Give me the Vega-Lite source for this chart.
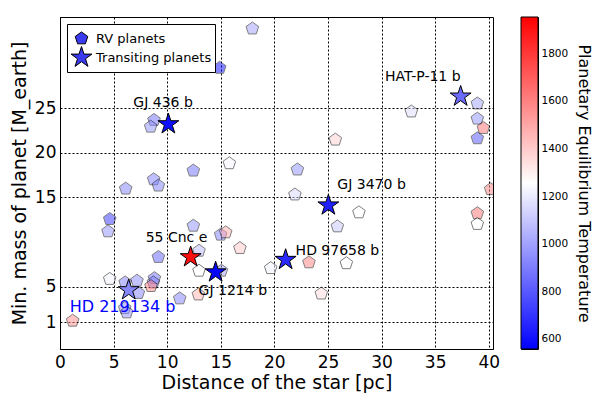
{
  "$schema": "https://vega.github.io/schema/vega-lite/v6.json",
  "padding": {"left": 9, "top": 16, "right": 0, "bottom": 0},
  "background": "white",
  "bounds": "flush",
  "spacing": 28,
  "config": {
    "font": "DejaVu Sans",
    "view": {"stroke": "black", "strokeWidth": 1},
    "axis": {"labelFont": "DejaVu Sans", "titleFont": "DejaVu Sans", "labelColor": "black", "titleColor": "black", "domainColor": "black", "tickColor": "black", "titleFontWeight": "normal"},
    "legend": {"labelFont": "DejaVu Sans", "labelColor": "black", "symbolBaseFillColor": "#3a3af0", "symbolBaseStrokeColor": "black", "symbolFillColor": "#3a3af0", "symbolStrokeColor": "black", "symbolOpacity": 1}
  },
  "datasets": {
    "planets": [
      {"name": "", "type": "RV planets", "distance": 17.95, "mass": 33.9, "temperature": 997},
      {"name": "", "type": "RV planets", "distance": 14.9, "mass": 29.5, "temperature": 585},
      {"name": "", "type": "RV planets", "distance": 8.77, "mass": 23.65, "temperature": 865},
      {"name": "", "type": "RV planets", "distance": 8.46, "mass": 22.9, "temperature": 955},
      {"name": "", "type": "RV planets", "distance": 12.44, "mass": 17.98, "temperature": 865},
      {"name": "", "type": "RV planets", "distance": 15.8, "mass": 18.8, "temperature": 1230},
      {"name": "", "type": "RV planets", "distance": 6.13, "mass": 15.96, "temperature": 907},
      {"name": "", "type": "RV planets", "distance": 8.74, "mass": 17.0, "temperature": 907},
      {"name": "", "type": "RV planets", "distance": 9.18, "mass": 16.3, "temperature": 907},
      {"name": "", "type": "RV planets", "distance": 22.15, "mass": 18.1, "temperature": 955},
      {"name": "", "type": "RV planets", "distance": 21.92, "mass": 15.3, "temperature": 1150},
      {"name": "", "type": "RV planets", "distance": 32.78, "mass": 24.6, "temperature": 1160},
      {"name": "", "type": "RV planets", "distance": 38.94, "mass": 25.5, "temperature": 1000},
      {"name": "", "type": "RV planets", "distance": 38.94, "mass": 23.8, "temperature": 955},
      {"name": "", "type": "RV planets", "distance": 39.5, "mass": 22.75, "temperature": 1645},
      {"name": "", "type": "RV planets", "distance": 38.94, "mass": 21.6, "temperature": 780},
      {"name": "", "type": "RV planets", "distance": 25.69, "mass": 21.45, "temperature": 1380},
      {"name": "", "type": "RV planets", "distance": 40.18, "mass": 15.9, "temperature": 1600},
      {"name": "", "type": "RV planets", "distance": 27.89, "mass": 13.3, "temperature": 1255},
      {"name": "", "type": "RV planets", "distance": 25.88, "mass": 11.73, "temperature": 1100},
      {"name": "", "type": "RV planets", "distance": 38.94, "mass": 13.2, "temperature": 1645},
      {"name": "", "type": "RV planets", "distance": 38.94, "mass": 12.0, "temperature": 1255},
      {"name": "", "type": "RV planets", "distance": 23.23, "mass": 7.7, "temperature": 1600},
      {"name": "", "type": "RV planets", "distance": 26.72, "mass": 7.6, "temperature": 1255},
      {"name": "", "type": "RV planets", "distance": 24.38, "mass": 4.2, "temperature": 1350},
      {"name": "", "type": "RV planets", "distance": 4.64, "mass": 12.55, "temperature": 697},
      {"name": "", "type": "RV planets", "distance": 4.48, "mass": 11.17, "temperature": 955},
      {"name": "", "type": "RV planets", "distance": 12.44, "mass": 11.8, "temperature": 955},
      {"name": "", "type": "RV planets", "distance": 14.99, "mass": 10.8, "temperature": 907},
      {"name": "", "type": "RV planets", "distance": 15.46, "mass": 11.06, "temperature": 1490},
      {"name": "", "type": "RV planets", "distance": 16.79, "mass": 9.3, "temperature": 1410},
      {"name": "", "type": "RV planets", "distance": 9.18, "mass": 8.3, "temperature": 823},
      {"name": "", "type": "RV planets", "distance": 12.97, "mass": 9.0, "temperature": 1060},
      {"name": "", "type": "RV planets", "distance": 12.97, "mass": 6.76, "temperature": 1255},
      {"name": "", "type": "RV planets", "distance": 15.06, "mass": 6.76, "temperature": 1000},
      {"name": "", "type": "RV planets", "distance": 19.66, "mass": 7.05, "temperature": 1220},
      {"name": "", "type": "RV planets", "distance": 4.64, "mass": 5.84, "temperature": 1220},
      {"name": "", "type": "RV planets", "distance": 6.08, "mass": 5.45, "temperature": 907},
      {"name": "", "type": "RV planets", "distance": 7.18, "mass": 5.64, "temperature": 930},
      {"name": "", "type": "RV planets", "distance": 8.81, "mass": 5.93, "temperature": 865},
      {"name": "", "type": "RV planets", "distance": 8.71, "mass": 5.45, "temperature": 907},
      {"name": "", "type": "RV planets", "distance": 8.49, "mass": 5.04, "temperature": 1600},
      {"name": "", "type": "RV planets", "distance": 7.31, "mass": 4.27, "temperature": 907},
      {"name": "", "type": "RV planets", "distance": 11.17, "mass": 3.66, "temperature": 907},
      {"name": "", "type": "RV planets", "distance": 12.91, "mass": 4.1, "temperature": 1465},
      {"name": "", "type": "RV planets", "distance": 6.04, "mass": 2.57, "temperature": 955},
      {"name": "", "type": "RV planets", "distance": 6.22, "mass": 2.09, "temperature": 955},
      {"name": "", "type": "RV planets", "distance": 1.18, "mass": 1.16, "temperature": 1575},
      {"name": "GJ 436 b", "type": "Transiting planets", "distance": 10.11, "mass": 23.2, "temperature": 600},
      {"name": "HAT-P-11 b", "type": "Transiting planets", "distance": 37.38, "mass": 26.3, "temperature": 850},
      {"name": "GJ 3470 b", "type": "Transiting planets", "distance": 25.04, "mass": 14.1, "temperature": 645},
      {"name": "HD 97658 b", "type": "Transiting planets", "distance": 21.05, "mass": 8.0, "temperature": 670},
      {"name": "GJ 1214 b", "type": "Transiting planets", "distance": 14.52, "mass": 6.6, "temperature": 575},
      {"name": "55 Cnc e", "type": "Transiting planets", "distance": 12.19, "mass": 8.3, "temperature": 1910},
      {"name": "HD 219134 b", "type": "Transiting planets", "distance": 6.41, "mass": 4.6, "temperature": 930}
    ],
    "cbar": [{"low": 558, "high": 1952}]
  },
  "hconcat": [
    {
      "width": 433,
      "height": 332,
      "data": {"name": "planets"},
      "encoding": {
        "x": {"field": "distance", "type": "quantitative", "title": "Distance of the star [pc]",
          "scale": {"domain": [0, 40.4], "nice": false, "zero": false},
          "axis": {"values": [0, 5, 10, 15, 20, 25, 30, 35, 40], "grid": true, "gridColor": "black", "gridDash": [2, 2], "gridOpacity": 1, "ticks": false, "labelFontSize": 17, "labelPadding": 5, "titleFontSize": 19, "titlePadding": 3, "labelFlush": false}},
        "y": {"field": "mass", "type": "quantitative", "title": "Min. mass of planet [M_earth]",
          "scale": {"domain": [-2, 35.2], "nice": false, "zero": false},
          "axis": {"values": [1, 5, 15, 20, 25], "grid": true, "gridColor": "black", "gridDash": [2, 2], "gridOpacity": 1, "ticks": false, "labelFontSize": 17, "labelPadding": 4, "titleFontSize": 19, "titlePadding": 5}}
      },
      "layer": [
        {
          "transform": [{"filter": "datum.type === 'RV planets'"}],
          "mark": {"type": "point", "filled": true, "size": 484, "opacity": 0.5, "stroke": "black", "strokeWidth": 1, "clip": true},
          "encoding": {
            "color": {"field": "temperature", "type": "quantitative", "scale": {"domain": [558, 1255, 1952], "range": ["#0000ff", "#ffffff", "#ff0000"], "interpolate": "rgb"}, "legend": null},
            "shape": {"field": "type", "type": "nominal",
              "scale": {"domain": ["RV planets", "Transiting planets"], "range": ["M0,-0.6L0.571,-0.185L0.353,0.485L-0.353,0.485L-0.571,-0.185Z", "M0,-1L0.2245,-0.309L0.951,-0.309L0.363,0.118L0.588,0.809L0,0.382L-0.588,0.809L-0.363,0.118L-0.951,-0.309L-0.2245,-0.309Z"]},
              "legend": {"title": null, "orient": "top-left", "offset": 7, "padding": 3, "strokeColor": "black", "fillColor": "white", "cornerRadius": 0, "labelFontSize": 13, "labelOffset": 3, "symbolSize": 484, "symbolStrokeWidth": 1, "rowPadding": -6, "symbolFillColor": "#3a3af0", "symbolStrokeColor": "black", "symbolOpacity": 1}}
          }
        },
        {
          "transform": [{"filter": "datum.type === 'Transiting planets'"}],
          "mark": {"type": "point", "filled": true, "size": 484, "opacity": 1, "stroke": "black", "strokeWidth": 1},
          "encoding": {
            "color": {"field": "temperature", "type": "quantitative", "legend": null},
            "shape": {"field": "type", "type": "nominal"}
          }
        },
        {
          "transform": [{"filter": "datum.name === 'GJ 436 b'"}],
          "mark": {"type": "text", "align": "left", "baseline": "alphabetic", "dx": -35, "dy": -17, "fontSize": 14, "color": "black"},
          "encoding": {"text": {"field": "name"}}
        },
        {
          "transform": [{"filter": "datum.name === 'HAT-P-11 b'"}],
          "mark": {"type": "text", "align": "right", "baseline": "alphabetic", "dx": 0, "dy": -15, "fontSize": 14, "color": "black"},
          "encoding": {"text": {"field": "name"}}
        },
        {
          "transform": [{"filter": "datum.name === 'GJ 3470 b'"}],
          "mark": {"type": "text", "align": "left", "baseline": "alphabetic", "dx": 9, "dy": -16, "fontSize": 14, "color": "black"},
          "encoding": {"text": {"field": "name"}}
        },
        {
          "transform": [{"filter": "datum.name === 'HD 97658 b'"}],
          "mark": {"type": "text", "align": "left", "baseline": "alphabetic", "dx": 10, "dy": -5, "fontSize": 14, "color": "black"},
          "encoding": {"text": {"field": "name"}}
        },
        {
          "transform": [{"filter": "datum.name === '55 Cnc e'"}],
          "mark": {"type": "text", "align": "left", "baseline": "alphabetic", "dx": -45, "dy": -15, "fontSize": 14, "color": "black"},
          "encoding": {"text": {"field": "name"}}
        },
        {
          "transform": [{"filter": "datum.name === 'GJ 1214 b'"}],
          "mark": {"type": "text", "align": "left", "baseline": "alphabetic", "dx": -17, "dy": 23, "fontSize": 14, "color": "black"},
          "encoding": {"text": {"field": "name"}}
        },
        {
          "transform": [{"filter": "datum.name === 'HD 219134 b'"}],
          "mark": {"type": "text", "align": "left", "baseline": "alphabetic", "dx": -59, "dy": 22, "fontSize": 16, "color": "#0000ff"},
          "encoding": {"text": {"field": "name"}}
        }
      ]
    },
    {
      "width": 17,
      "height": 332,
      "data": {"name": "cbar"},
      "mark": {"type": "rect", "stroke": "black", "strokeWidth": 1,
        "fill": {"gradient": "linear", "x1": 0, "y1": 1, "x2": 0, "y2": 0, "stops": [{"offset": 0, "color": "#0000ff"}, {"offset": 0.5, "color": "#ffffff"}, {"offset": 1, "color": "#ff0000"}]}},
      "encoding": {
        "y": {"field": "low", "type": "quantitative", "title": "Planetary Equilibrium Temperature",
          "scale": {"domain": [558, 1952], "nice": false, "zero": false},
          "axis": {"orient": "right", "values": [600, 800, 1000, 1200, 1400, 1600, 1800], "format": "d", "grid": false, "domain": false, "tickSize": -4, "labelPadding": 7, "labelFontSize": 10.5, "titleFontSize": 16, "titlePadding": 8, "titleAngle": 90}},
        "y2": {"field": "high"}
      }
    }
  ]
}
